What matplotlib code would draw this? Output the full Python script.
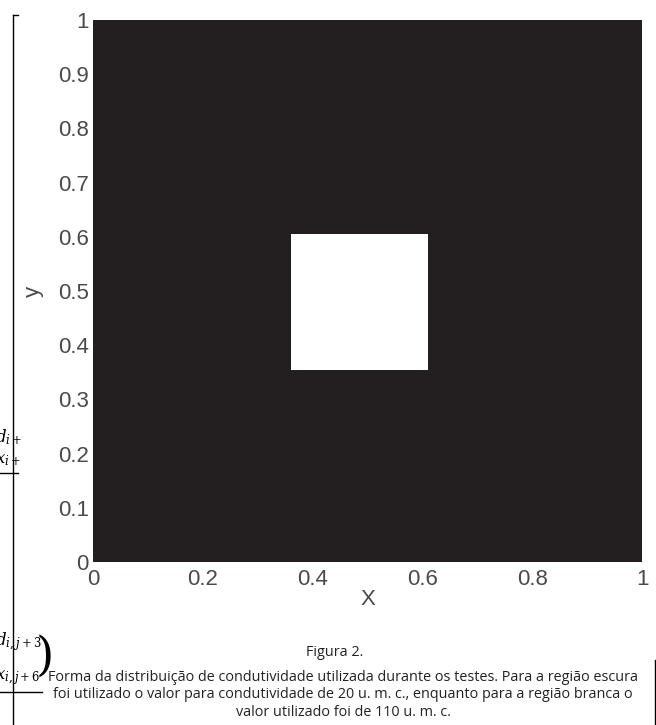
import numpy as np
import matplotlib
matplotlib.use('Agg')
from matplotlib import pyplot as plt
from matplotlib.colors import ListedColormap

# conductivity map: edges of the cells along x and y, value of each cell
x_edges = [0.0, 0.36, 0.61, 1.0]
y_edges = [0.0, 0.355, 0.605, 1.0]
conductivity = [[20, 20, 20],
                [20, 110, 20],
                [20, 20, 20]]

x_ticks = [0, 0.2, 0.4, 0.6, 0.8, 1]
x_tick_labels = ['0', '0.2', '0.4', '0.6', '0.8', '1']
y_ticks = [0, 0.1, 0.2, 0.3, 0.4, 0.5, 0.6, 0.7, 0.8, 0.9, 1]
y_tick_labels = ['0', '0.1', '0.2', '0.3', '0.4', '0.5', '0.6', '0.7', '0.8', '0.9', '1']

caption_title = 'Figura 2.'
caption = ('Forma da distribuição de condutividade utilizada durante os testes. Para a região escura\n'
           'foi utilizado o valor para condutividade de 20 u. m. c., enquanto para a região branca o\n'
           'valor utilizado foi de 110 u. m. c.')

W, H = 656, 725
fig = plt.figure(figsize=(W / 100, H / 100), dpi=100)
plt.rcParams['mathtext.fontset'] = 'dejavuserif'

ax = fig.add_axes([93 / W, 1 - 562 / H, 549 / W, 542 / H])
cmap = ListedColormap(['#231f20', '#ffffff'])
ax.pcolormesh(x_edges, y_edges, np.array(conductivity), cmap=cmap, vmin=20, vmax=110)
ax.set_xlim(0, 1)
ax.set_ylim(0, 1)
for s in ax.spines.values():
    s.set_visible(False)

tick_color = '#4a4a4a'
ax.set_xticks(x_ticks)
ax.set_xticklabels(x_tick_labels)
ax.set_yticks(y_ticks)
ax.set_yticklabels(y_tick_labels)
ax.tick_params(length=0, labelsize=16, labelcolor=tick_color)
ax.tick_params(axis='x', pad=5)
ax.tick_params(axis='y', pad=3)
for lab in ax.get_xticklabels() + ax.get_yticklabels():
    lab.set_family('Liberation Sans')
ax.set_xlabel('X', fontsize=16, color=tick_color, family='Liberation Sans', labelpad=-1)
ax.set_ylabel('y', fontsize=16, color=tick_color, family='Liberation Sans', labelpad=10)

# caption
fig.text(335 / W, 1 - 652 / H, caption_title, ha='center', va='center',
         fontsize=10.4, family='Open Sans', color='#222222')
fig.text(343 / W, 1 - 695 / H, caption, ha='center', va='center',
         fontsize=10.4, family='Open Sans', color='#222222', linespacing=1.2)

# page fragments on the edges
fig.add_artist(plt.Line2D([13 / W, 13 / W], [0, 1 - 15 / H], color='black', lw=1))
fig.add_artist(plt.Line2D([13 / W, 18 / W], [1 - 15 / H, 1 - 15 / H], color='black', lw=1))
fig.add_artist(plt.Line2D([655 / W, 655 / W], [0, 1 - 660 / H], color='black', lw=1))
fig.text(-5 / W, 1 - 437 / H, r'$d_{i+}$', ha='left', va='center', fontsize=12)
fig.text(-5 / W, 1 - 459 / H, r'$x_{i+}$', ha='left', va='center', fontsize=12)
fig.add_artist(plt.Line2D([0, 18 / W], [1 - 473 / H, 1 - 473 / H], color='black', lw=1))
fig.text(-5 / W, 1 - 642 / H, r'$d_{i,j+3}$', ha='left', va='center', fontsize=12)
fig.text(-5 / W, 1 - 678 / H, r'$x_{i,j+6}$', ha='left', va='center', fontsize=12)
fig.text(36 / W, 1 - 657 / H, ')', ha='left', va='center', fontsize=34,
         family='DejaVu Serif', fontweight='light')
fig.add_artist(plt.Line2D([0, 42 / W], [1 - 692 / H, 1 - 692 / H], color='black', lw=1))

fig.savefig('out.png', dpi=100)
